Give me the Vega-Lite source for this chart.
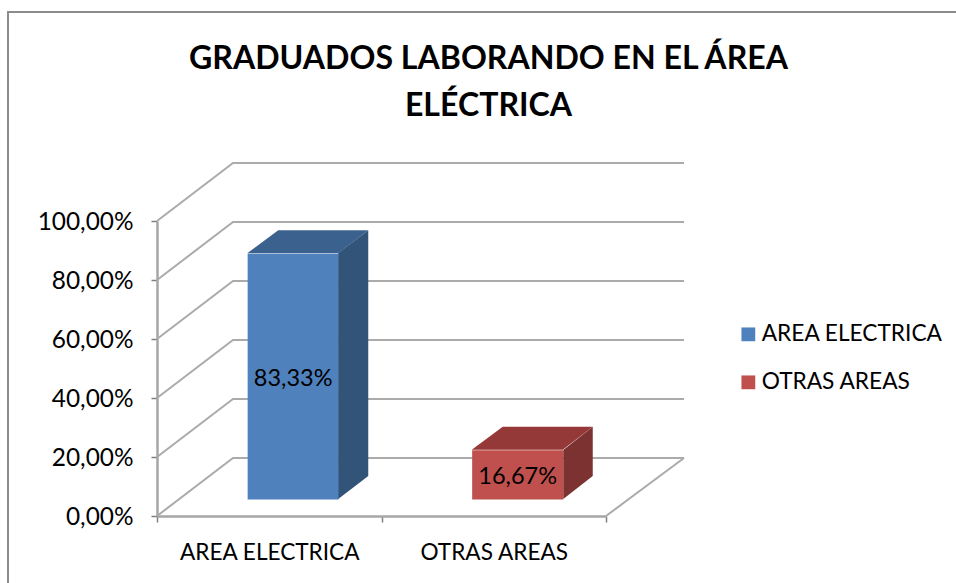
{
"$schema":"https://vega.github.io/schema/vega-lite/v6.json",
"width":449,"height":295,
"autosize":"none",
"padding":{"left":157,"top":221,"right":350,"bottom":67},
"background":"white",
"config":{"view":{"stroke":null},"font":"Lato"},
"title":{"text":["GRADUADOS LABORANDO EN EL ÁREA","ELÉCTRICA"],"font":"Lato","fontWeight":"bold","fontSize":32.1,"lineHeight":47,"color":"#000000","anchor":"middle","dx":107,"offset":-115},
"datasets":{
"bars":[{"category":"AREA ELECTRICA","value":0.8333,"label":"83,33%"},{"category":"OTRAS AREAS","value":0.1667,"label":"16,67%"}],
"grid":[{"v":0},{"v":0.2},{"v":0.4},{"v":0.6},{"v":0.8},{"v":1}]
},
"layer":[
{"data":{"values":[{"v":1}]},
 "mark":{"type":"point","shape":"M-373.5,362L-373.5,-209L574.5,-209","filled":false,"size":4,"stroke":"#8C8C8C","strokeWidth":2,"opacity":1},
 "encoding":{"y":{"field":"v","type":"quantitative","scale":{"domain":[0,1]},
   "axis":{"values":[0,0.2,0.4,0.6,0.8,1],"title":null,"grid":false,"labelExpr":"replace(format(datum.value,'.2%'),'.',',')","labelFont":"Lato","labelFontSize":24.4,"labelColor":"#000000","labelPadding":18,"labelOffset":1.5,"tickSize":6,"tickColor":"#7F7F7F","tickWidth":1.5,"domainColor":"#A6A6A6","domainWidth":2.5}}}},
{"data":{"name":"grid"},
 "mark":{"type":"point","shape":"M-224.5,0L-148.5,-58L302.5,-58","filled":false,"size":4,"stroke":"#ABABAB","strokeWidth":2,"opacity":1},
 "encoding":{"y":{"field":"v","type":"quantitative"}}},
{"data":{"values":[{"v":0}]},
 "mark":{"type":"point","shape":"M224.5,0L302.5,-58","filled":false,"size":4,"stroke":"#ABABAB","strokeWidth":2,"opacity":1},
 "encoding":{"y":{"field":"v","type":"quantitative"}}},
{"data":{"name":"bars"},
 "mark":{"type":"bar","width":91,"xOffset":23.9,"x2Offset":23.9,"yOffset":-16.5,"y2Offset":-16.5},
 "encoding":{
  "x":{"field":"category","type":"nominal","sort":null,"scale":{"type":"band","paddingInner":0,"paddingOuter":0},
    "axis":{"title":null,"labelAngle":0,"labelFont":"Lato","labelFontSize":22.6,"labelColor":"#000000","labelPadding":19,"labelLimit":300,"tickBand":"extent","tickSize":6,"tickColor":"#7F7F7F","tickWidth":1.5,"domainColor":"#A6A6A6","domainWidth":2.5}},
  "y":{"field":"value","type":"quantitative"},
  "color":{"field":"category","type":"nominal","sort":null,"scale":{"domain":["AREA ELECTRICA","OTRAS AREAS"],"range":["#4F81BD","#C0504D"]},
    "legend":{"title":null,"orient":"none","legendX":580,"legendY":102,"symbolType":"square","symbolSize":190,"symbolStrokeWidth":0,"symbolOpacity":1,"labelFont":"Lato","labelFontSize":22.7,"labelColor":"#000000","labelOffset":2,"rowPadding":24,"labelLimit":300}}}},
{"data":{"name":"bars"},
 "transform":[{"filter":"datum.category==='AREA ELECTRICA'"}],
 "mark":{"type":"point","filled":true,"size":4,"opacity":1,"shape":"M69,-17.2L99,-40L99,205.8L69,228.8Z","color":"#335479"},
 "encoding":{
  "x":{"field":"category","type":"nominal","sort":null,"scale":{"type":"band"}},
  "y":{"field":"value","type":"quantitative"}}},
{"data":{"name":"bars"},
 "transform":[{"filter":"datum.category==='OTRAS AREAS'"}],
 "mark":{"type":"point","filled":true,"size":4,"opacity":1,"shape":"M69.5,-16.8L99,-40L99,9.2L69.5,32.2Z","color":"#7C3230"},
 "encoding":{
  "x":{"field":"category","type":"nominal","sort":null,"scale":{"type":"band"}},
  "y":{"field":"value","type":"quantitative"}}},
{"data":{"name":"bars"},
 "mark":{"type":"point","filled":true,"size":4,"opacity":1,"shape":"M-22,-17L69,-17L99,-40L9,-40Z"},
 "encoding":{
  "x":{"field":"category","type":"nominal","sort":null,"scale":{"type":"band"}},
  "y":{"field":"value","type":"quantitative"},
  "color":{"condition":{"test":"datum.category==='OTRAS AREAS'","value":"#943937"},"value":"#3B618F"}}},
{"data":{"name":"bars"},
 "transform":[{"calculate":"datum.value/2","as":"mid"}],
 "mark":{"type":"text","font":"Lato","fontSize":23.5,"color":"#000000","xOffset":23.9,"yOffset":-14.5,"baseline":"middle"},
 "encoding":{
  "x":{"field":"category","type":"nominal","sort":null,"scale":{"type":"band"}},
  "y":{"field":"mid","type":"quantitative"},
  "text":{"field":"label","type":"nominal"}}}
]
}
